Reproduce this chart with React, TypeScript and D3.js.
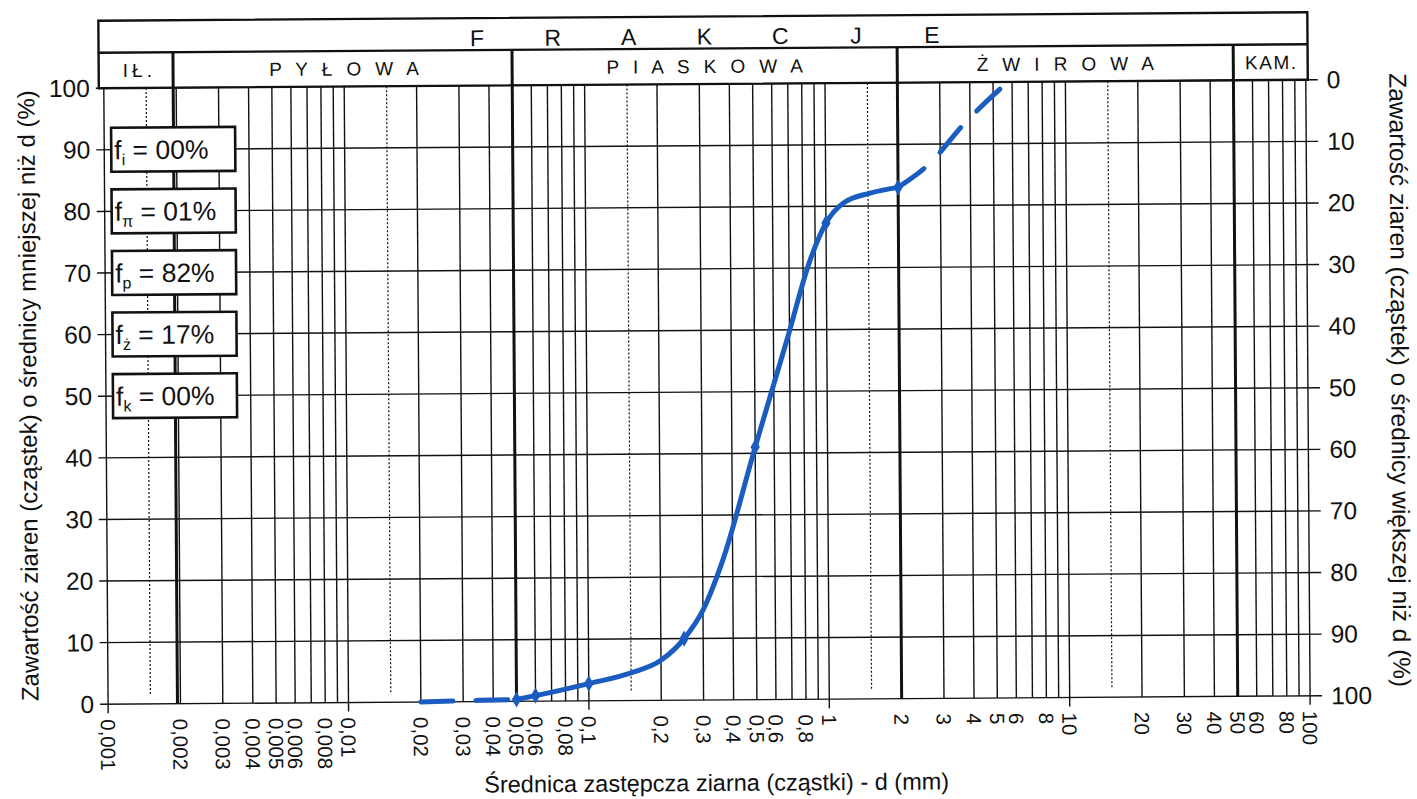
import React from "react";
import * as d3 from "d3";

const WIDTH = 1417;
const HEIGHT = 799;

// Sieve analysis results: grain diameter (mm) and cumulative percentage finer
const sieveDiameters = [0.05, 0.06, 0.1, 0.25, 0.5, 1.0, 2.0];
const sievePassing = [0.3, 0.9, 2.8, 10, 41, 77.3, 83];

// Grading curve drawn through the sieve points (solid part)
const curveDiameters = [0.05, 0.06, 0.1, 0.15, 0.2, 0.25, 0.3, 0.364, 0.5, 0.682, 0.857, 1.0, 1.18, 1.53, 2.0];
const curvePassing = [0.3, 0.9, 2.8, 4.5, 6.5, 10, 14.6, 22.7, 41, 58.3, 71.3, 77.3, 80.5, 82.1, 83];

// Extrapolated ends of the grading curve (dashed)
const fineTailDiameters = [0.02, 0.035, 0.05];
const fineTailPassing = [0, 0.2, 0.3];
const coarseTailDiameters = [2.0, 2.67, 3.81, 5.77];
const coarseTailPassing = [83, 86.6, 93.4, 100];

// Fraction contents
const fractionSymbols = ["i", "π", "p", "ż", "k"];
const fractionContents = ["00%", "01%", "82%", "17%", "00%"];
const fractionLevels = [90, 80, 70, 60, 50];

// Fraction classes along the diameter axis
const headerTitle = "FRAKCJE";
const fractionNames = ["IŁ.", "PYŁOWA", "PIASKOWA", "ŻWIROWA", "KAM."];
const fractionLimits = [0.001, 0.002, 0.05, 2, 50, 100];

// Axis ticks
const decades = [0.001, 0.01, 0.1, 1, 10];
const gridMultiples = [1, 2, 3, 4, 5, 6, 7, 8, 9];
const labelMultiples = [1, 2, 3, 4, 5, 6, 8];
const yTickValues = [0, 10, 20, 30, 40, 50, 60, 70, 80, 90, 100];

const FONT = "'Liberation Sans', Arial, Helvetica, sans-serif";
const BLUE = "#1a5cc0";
const INK = "#111";

const round = (v: number) => +v.toPrecision(6);

const gridValues = decades.flatMap((d) => gridMultiples.map((m) => round(m * d))).concat([100]);
const dottedValues = decades.map((d) => round(1.5 * d));
const xTickValues = decades.flatMap((d) => labelMultiples.map((m) => round(m * d))).concat([100]);
const boundaryValues = fractionLimits.slice(1, -1);

const plLocale = d3.formatLocale({ decimal: ",", thousands: " ", grouping: [3], currency: ["", " zł"] });
const fmt = plLocale.format("~g");

export default function App() {
  const x = d3.scaleLog().domain([0.001, 100]).range([106, 1308]);
  const y = d3.scaleLinear().domain([0, 100]).range([700, 84]);

  const headerLeft = x(0.001) - 5;
  const headerRight = x(100) + 2;
  const headerTop = 16.5;
  const headerMid = 48.5;
  const headerBottom = y(100);

  const line = d3
    .line<[number, number]>()
    .x((d) => x(d[0]))
    .y((d) => y(d[1]))
    .curve(d3.curveMonotoneX);

  const solid = line(curveDiameters.map((d, i) => [d, curvePassing[i]] as [number, number])) || "";
  const fineTail = line(fineTailDiameters.map((d, i) => [d, fineTailPassing[i]] as [number, number])) || "";
  const coarseTail = line(coarseTailDiameters.map((d, i) => [d, coarseTailPassing[i]] as [number, number])) || "";
  const diamond = d3.symbol().type(d3.symbolDiamond).size(75)() || "";

  const isDecade = (v: number) => Math.abs(Math.log10(v) - Math.round(Math.log10(v))) < 1e-9;

  const cellEdges = fractionLimits.map((v, i) =>
    i === 0 ? headerLeft : i === fractionLimits.length - 1 ? headerRight : x(v)
  );

  // letter spacing of the fraction names in the header
  const nameSpacing = (name: string) => (name === "IŁ." ? 4 : name.endsWith(".") ? 1.5 : 4.4);

  return (
    <svg
      width={WIDTH}
      height={HEIGHT}
      viewBox={`0 0 ${WIDTH} ${HEIGHT}`}
      style={{ position: "absolute", left: 0, top: 0, background: "#fff" }}
      fontFamily={FONT}
    >
      <rect width={WIDTH} height={HEIGHT} fill="#fff" />
      <g transform="rotate(-0.4 708 400)">
        {/* horizontal grid with ticks on both sides */}
        {yTickValues.map((v) => (
          <line
            key={`h${v}`}
            x1={x(0.001) - 8}
            x2={x(100) + 12}
            y1={y(v)}
            y2={y(v)}
            stroke={INK}
            strokeWidth={1.4}
          />
        ))}

        {/* vertical grid on the logarithmic diameter axis */}
        {gridValues.map((v) => (
          <line
            key={`v${v}`}
            x1={x(v)}
            x2={x(v)}
            y1={headerBottom}
            y2={isDecade(v) ? y(0) + 9 : y(0)}
            stroke={INK}
            strokeWidth={1.4}
          />
        ))}
        {dottedValues.map((v) => (
          <line
            key={`d${v}`}
            x1={x(v)}
            x2={x(v)}
            y1={headerBottom}
            y2={y(0) - 8}
            stroke={INK}
            strokeWidth={1.2}
            strokeDasharray="2 2"
          />
        ))}
        {boundaryValues.map((v) => (
          <line
            key={`b${v}`}
            x1={v === 0.002 ? x(v) - 3 : x(v)}
            x2={v === 0.002 ? x(v) - 3 : x(v)}
            y1={headerMid}
            y2={y(0)}
            stroke={INK}
            strokeWidth={3}
          />
        ))}

        {/* header: fractions */}
        <rect
          x={headerLeft}
          y={headerTop}
          width={headerRight - headerLeft}
          height={headerBottom - headerTop}
          fill="none"
          stroke={INK}
          strokeWidth={2.4}
        />
        <line x1={headerLeft} x2={headerRight} y1={headerMid} y2={headerMid} stroke={INK} strokeWidth={2.4} />
        {headerTitle.split("").map((ch, i) => (
          <text
            key={`t${i}`}
            x={707 + (i - (headerTitle.length - 1) / 2) * 75.8}
            y={headerTop + 28}
            fontSize={23}
            textAnchor="middle"
            fill={INK}
          >
            {ch}
          </text>
        ))}
        {fractionNames.map((name, i) => {
          const spaced = !name.endsWith(".");
          const ls = nameSpacing(name);
          const cx = (cellEdges[i] + cellEdges[i + 1]) / 2;
          return (
            <text
              key={`f${name}`}
              x={cx}
              dx={ls / 2}
              y={headerBottom - 11}
              fontSize={19}
              textAnchor="middle"
              letterSpacing={ls}
              fill={INK}
              style={{ whiteSpace: "pre" }}
            >
              {spaced ? name.split("").join(" ") : name}
            </text>
          );
        })}

        {/* fraction content boxes */}
        {fractionSymbols.map((sym, i) => {
          const cy = y(fractionLevels[i]);
          return (
            <g key={`box${sym}`}>
              <rect x={113} y={cy - 22} width={124} height={44} fill="#fff" stroke={INK} strokeWidth={2.6} />
              <text x={116} y={cy + 9.5} fontSize={26.5} fill={INK} style={{ whiteSpace: "pre" }}>
                f
                <tspan fontSize={16} dy={6}>
                  {sym}
                </tspan>
                <tspan dy={-6}>{` = ${fractionContents[i]}`}</tspan>
              </text>
            </g>
          );
        })}

        {/* grading curve */}
        <path d={fineTail} fill="none" stroke={BLUE} strokeWidth={5} strokeLinecap="round" strokeDasharray="32 23" />
        <path d={coarseTail} fill="none" stroke={BLUE} strokeWidth={5} strokeLinecap="round" strokeDasharray="32 23" />
        <path d={solid} fill="none" stroke={BLUE} strokeWidth={5} strokeLinecap="round" strokeLinejoin="round" />
        {sieveDiameters.map((d, i) => (
          <path
            key={`m${d}`}
            d={diamond}
            transform={`translate(${x(d)},${y(sievePassing[i])})`}
            fill={BLUE}
          />
        ))}

        {/* left axis: percentage finer */}
        {yTickValues.map((v) => (
          <text
            key={`yl${v}`}
            x={92}
            y={y(v)}
            fontSize={24.5}
            textAnchor="end"
            dominantBaseline="central"
            fill={INK}
          >
            {v}
          </text>
        ))}
        {/* right axis: percentage coarser */}
        {yTickValues.map((v) => (
          <text
            key={`yr${v}`}
            x={1329}
            y={y(v)}
            fontSize={24.5}
            textAnchor="start"
            dominantBaseline="central"
            fill={INK}
          >
            {100 - v}
          </text>
        ))}

        {/* diameter tick labels */}
        {xTickValues.map((v) => (
          <text
            key={`xl${v}`}
            transform={`translate(${x(v)},${715}) rotate(90)`}
            fontSize={20.5}
            textAnchor="start"
            dominantBaseline="central"
            fill={INK}
          >
            {fmt(v)}
          </text>
        ))}

        {/* axis titles */}
        <text
          transform={`translate(28,${391}) rotate(-90)`}
          fontSize={24}
          textAnchor="middle"
          dominantBaseline="central"
          fill={INK}
        >
          Zawartość ziaren (cząstek) o średnicy mniejszej niż d (%)
        </text>
        <text
          transform={`translate(1400,${385}) rotate(90)`}
          fontSize={24.5}
          textAnchor="middle"
          dominantBaseline="central"
          fill={INK}
        >
          Zawartość ziaren (cząstek) o średnicy większej niż d (%)
        </text>
        <text x={714} y={791} fontSize={23.5} textAnchor="middle" fill={INK}>
          Średnica zastępcza ziarna (cząstki) - d (mm)
        </text>
      </g>
    </svg>
  );
}
